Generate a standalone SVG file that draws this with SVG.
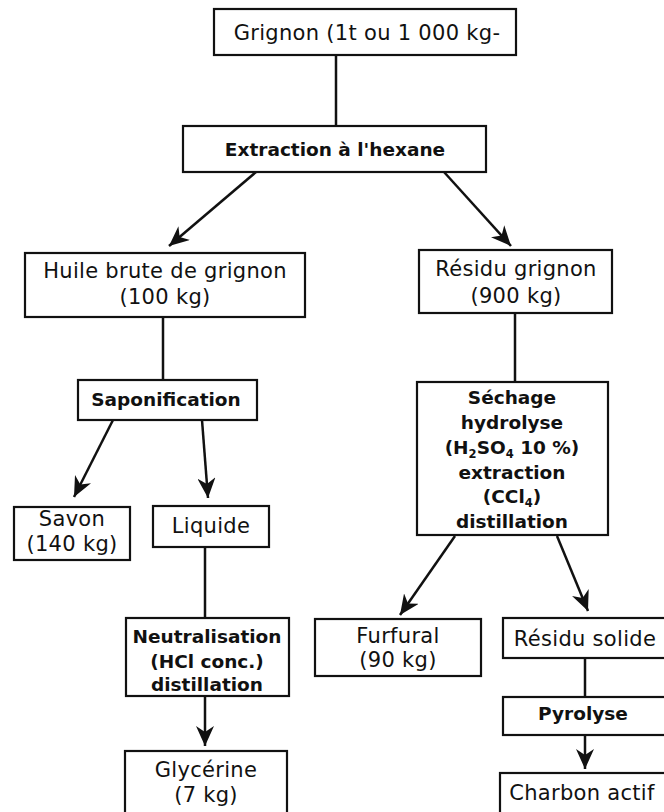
<svg xmlns="http://www.w3.org/2000/svg" width="664" height="812" viewBox="0 0 664 812">
<defs>
<marker id="ah" markerUnits="userSpaceOnUse" markerWidth="22" markerHeight="18" refX="20" refY="9" orient="auto">
<path d="M0,0 L20,9 L0,18 L6,9 Z" fill="#111"/>
</marker>
<style>
rect{fill:#fff;stroke:#111;stroke-width:2.2}
text{font-family:"DejaVu Sans","Open Sans",sans-serif;font-size:21px;letter-spacing:0.3px;fill:#111;text-anchor:middle}
.b{font-weight:bold;font-size:18.5px;letter-spacing:0}
.c line{stroke:#111;stroke-width:2.5;fill:none}
.a{marker-end:url(#ah)}
.s{font-size:11.5px}
</style>
</defs>
<rect x="0" y="0" width="664" height="812" style="fill:#fff;stroke:none"/>
<g class="c" id="connectors">
<line x1="336" y1="55" x2="336" y2="126"/>
<line class="a" x1="256" y1="172" x2="169" y2="246"/>
<line class="a" x1="444" y1="172" x2="511" y2="246"/>
<line x1="163" y1="317" x2="163" y2="380"/>
<line x1="515" y1="313" x2="515" y2="382"/>
<line class="a" x1="113" y1="420" x2="74" y2="497"/>
<line class="a" x1="202" y1="420" x2="208" y2="498"/>
<line x1="205" y1="547" x2="205" y2="618"/>
<line class="a" x1="205" y1="696" x2="205" y2="746"/>
<line class="a" x1="455" y1="536" x2="400" y2="615"/>
<line class="a" x1="557" y1="536" x2="588" y2="611"/>
<line x1="585" y1="658" x2="585" y2="697"/>
<line class="a" x1="585" y1="735" x2="585" y2="769"/>
</g>
<g id="grignon"><rect x="214" y="9" width="302" height="46"/><text x="367" y="40">Grignon (1t ou 1 000 kg-</text></g>
<g id="extraction"><rect x="183" y="126" width="303" height="46"/><text class="b" x="335" y="156">Extraction à l'hexane</text></g>
<g id="huile"><rect x="25" y="253" width="280" height="64"/><text x="165" y="278">Huile brute de grignon</text><text x="165" y="304">(100 kg)</text></g>
<g id="residu"><rect x="419" y="250" width="193" height="63"/><text x="516" y="276">Résidu grignon</text><text x="516" y="303">(900 kg)</text></g>
<g id="saponification"><rect x="78" y="380" width="179" height="40"/><text class="b" x="166" y="406">Saponification</text></g>
<g id="sechage"><rect x="417" y="382" width="191" height="153"/>
<text class="b" x="512" y="404">Séchage</text>
<text class="b" x="512" y="429">hydrolyse</text>
<text class="b" x="512" y="454">(H<tspan class="s" dy="4">2</tspan><tspan dy="-4">SO</tspan><tspan class="s" dy="4">4</tspan><tspan dy="-4"> 10 %)</tspan></text>
<text class="b" x="512" y="479">extraction</text>
<text class="b" x="512" y="503">(CCl<tspan class="s" dy="4">4</tspan><tspan dy="-4">)</tspan></text>
<text class="b" x="512" y="528">distillation</text>
</g>
<g id="savon"><rect x="14" y="507" width="116" height="53"/><text x="72" y="526">Savon</text><text x="72" y="551">(140 kg)</text></g>
<g id="liquide"><rect x="153" y="506" width="116" height="41"/><text x="211" y="533">Liquide</text></g>
<g id="neutralisation"><rect x="126" y="618" width="163" height="78"/><text class="b" x="207" y="643">Neutralisation</text><text class="b" x="207" y="668">(HCl conc.)</text><text class="b" x="207" y="691">distillation</text></g>
<g id="glycerine"><rect x="125" y="751" width="162" height="70"/><text x="206" y="777">Glycérine</text><text x="206" y="802">(7 kg)</text></g>
<g id="furfural"><rect x="315" y="619" width="166" height="57"/><text x="398" y="643">Furfural</text><text x="398" y="667">(90 kg)</text></g>
<g id="residusolide"><rect x="503" y="618" width="170" height="40"/><text x="585" y="646">Résidu solide</text></g>
<g id="pyrolyse"><rect x="503" y="697" width="170" height="38"/><text class="b" x="583" y="720">Pyrolyse</text></g>
<g id="charbon"><rect x="500" y="773" width="173" height="50"/><text x="582" y="800">Charbon actif</text></g>
</svg>
